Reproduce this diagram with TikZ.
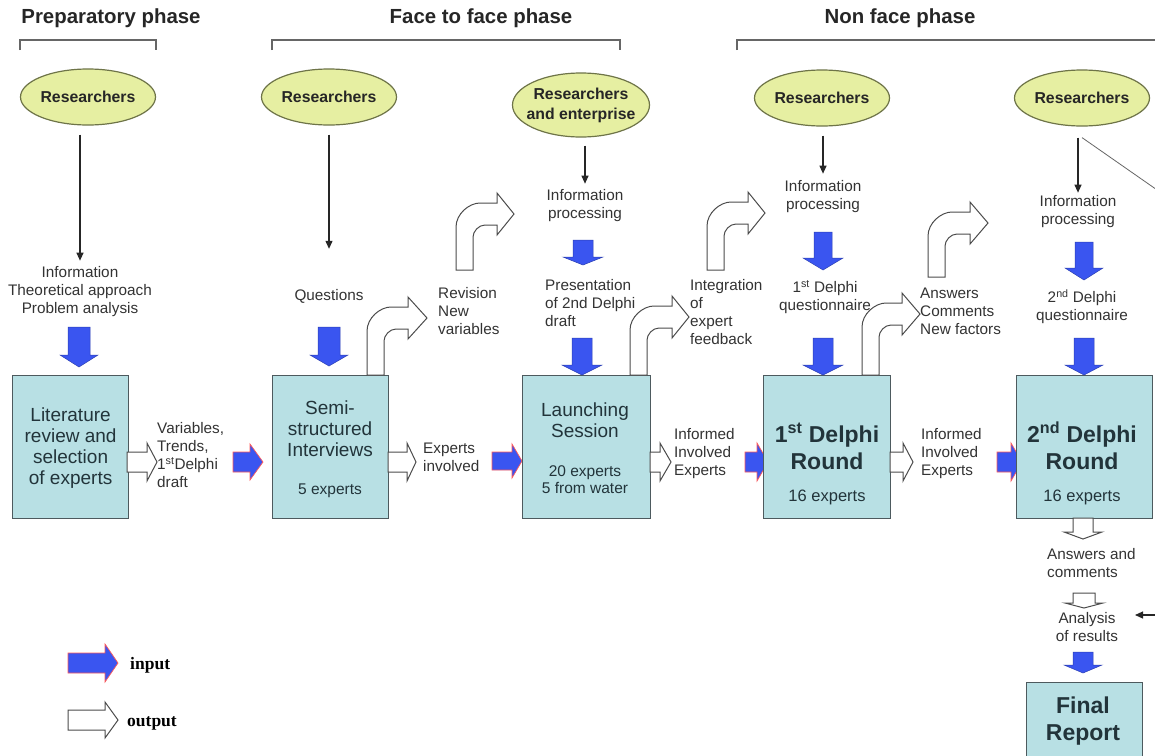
\documentclass[tikz,border=0pt]{standalone}
\usepackage{fontspec}
\setmainfont{Liberation Sans}
\newfontfamily\legfont{Liberation Serif}
\usetikzlibrary{arrows.meta,shapes.geometric}
\definecolor{boxfill}{HTML}{B8E0E4}
\definecolor{boxline}{HTML}{4D5A5E}
\definecolor{ellfill}{HTML}{E6EFA2}
\definecolor{ellline}{HTML}{6E7448}
\definecolor{inblue}{HTML}{3A55F0}
\definecolor{txt}{HTML}{333333}
\definecolor{boxtxt}{HTML}{22343A}
\tikzset{
  hdr/.style={font=\fontsize{20.4}{23}\selectfont\bfseries, text=black!85, inner sep=0},
  brk/.style={draw=black!60, line width=1.3pt},
  ell/.style={ellipse, draw=ellline, line width=1.2pt, fill=ellfill, minimum width=135, minimum height=56, inner sep=0},
  elltxt/.style={font=\fontsize{15.8}{20}\selectfont\bfseries, text=black!85, align=center, inner sep=0},
  lbl/.style={font=\fontsize{15.3}{18}\selectfont, text=txt, align=center, inner sep=0},
  lbll/.style={lbl, align=left},
  thinarr/.style={draw=black!85, line width=1.1pt, -{Triangle[length=8pt,width=7pt]}},
  grayline/.style={draw=black!60, line width=0.8pt},
  box/.style={draw=boxline, line width=1.2pt, fill=boxfill, inner sep=0},
  btxt/.style={font=\fontsize{19}{21}\selectfont, text=boxtxt, align=center, inner sep=0},
  bsmall/.style={font=\fontsize{15.5}{17}\selectfont, text=boxtxt, align=center, inner sep=0},
  bbig/.style={font=\fontsize{23}{27}\selectfont\bfseries, text=boxtxt, align=center, inner sep=0},
  outarr/.style={draw=black!70, line width=1pt, fill=white, line join=miter},
  inarr/.style={fill=inblue, draw=red!65, line width=0.7pt, line join=miter},
  downarr/.style={fill=inblue, draw=inblue!75!black, line width=0.5pt, line join=miter},
  leg/.style={font=\legfont\fontsize{17.5}{19}\selectfont\bfseries, inner sep=0}
}
% right-pointing block arrow: [style]{x0}{head x}{tip x}{y centre}{shaft half}{head half}
\newcommand\rblock[7][outarr]{\draw[#1] (#2,#5-#6) -- (#3,#5-#6) -- (#3,#5-#7) -- (#4,#5) -- (#3,#5+#7) -- (#3,#5+#6) -- (#2,#5+#6) -- cycle;}
% down-pointing block arrow: [style]{y0}{head y}{tip y}{x centre}{shaft half}{head half}
\newcommand\dblock[7][downarr]{\draw[#1] (#5-#6,#2) -- (#5-#6,#3) -- (#5-#7,#3) -- (#5,#4) -- (#5+#7,#3) -- (#5+#6,#3) -- (#5+#6,#2) -- cycle;}
% bent (up then right) block arrow: {shaft left x}{bottom y}{top y of horizontal part}{head x}{tip x}
\newcommand\bentarr[5]{\draw[outarr] (#1,#2) -- (#1,#3+24) .. controls (#1,#3+11) and (#1+13,#3) .. (#1+24,#3) -- (#4,#3) -- (#4,#3-10) -- (#5,#3+11) -- (#4,#3+32) -- (#4,#3+22) -- (#1+29,#3+22) .. controls (#1+22.4,#3+22) and (#1+17,#3+28.6) .. (#1+17,#3+34) -- (#1+17,#2) -- cycle;}
\begin{document}
\begin{tikzpicture}[x=1pt,y=-1pt]
\useasboundingbox[fill=white] (0,0) rectangle (1155,755);

% phase headers and brackets
\node[hdr] (h1) at (111,18) {Preparatory phase};
\node[hdr] (h2) at (481,18) {Face to face phase};
\node[hdr] (h3) at (900,18) {Non face phase};
\draw[brk] (20,50) -- (20,40) -- (156,40) -- (156,50);
\draw[brk] (272,50) -- (272,40) -- (620,40) -- (620,50);
\draw[brk] (737,50) -- (737,40) -- (1160,40);

% ellipses
\node[ell] (e1) at (88,97) {};
\node[elltxt] (e1t) at (e1) {Researchers};
\node[ell] (e2) at (329,97) {};
\node[elltxt] (e2t) at (e2) {Researchers};
\node[ell, minimum width=137, minimum height=64] (e3) at (581,105) {};
\node[elltxt] (e3t) at (e3) {Researchers\\and enterprise};
\node[ell] (e4) at (822,98) {};
\node[elltxt] (e4t) at (e4) {Researchers};
\node[ell] (e5) at (1082,98) {};
\node[elltxt] (e5t) at (e5) {Researchers};

% labels
\node[lbl] (i1) at (80,292) {Information\\Theoretical approach\\Problem analysis};
\node[lbl] (q2) at (329,296) {Questions};
\node[lbl] (i3) at (585,206) {Information\\processing};
\node[lbll, anchor=west] (p3) at (545,303) {Presentation\\of 2nd Delphi\\draft};
\node[lbl] (i4) at (823,197) {Information\\processing};
\node[lbl] (q4) at (825,297) {1\textsuperscript{st} Delphi\\questionnaire};
\node[lbl] (i5) at (1078,212) {Information\\processing};
\node[lbl] (q5) at (1082,307) {2\textsuperscript{nd} Delphi\\questionnaire};
\node[lbll, anchor=west] (v1) at (157,455) {Variables,\\Trends,\\1\textsuperscript{st}Delphi\\draft};
\node[lbll, anchor=west] (ex2) at (423,457) {Experts\\involved};
\node[lbll, anchor=west] (rv) at (438,311) {Revision\\New\\variables};
\node[lbll, anchor=west] (ig) at (690,312) {Integration\\of\\expert\\feedback};
\node[lbll, anchor=west] (ie3) at (674,454) {Informed\\Involved\\Experts};
\node[lbll, anchor=west] (ie4) at (921,454) {Informed\\Involved\\Experts};
\node[lbll, anchor=west] (ans) at (920,311) {Answers\\Comments\\New factors};
\node[lbll, anchor=west] (ac) at (1047,563) {Answers and\\comments};
\node[lbl] (an) at (1087,627) {Analysis\\of results};

% thin arrows
\draw[thinarr, shorten <=9pt, shorten >=6pt] (e1.south -| i1.north) -- (i1.north);
\draw[thinarr, shorten <=9pt, shorten >=40pt] (e2.south -| q2.north) -- (q2.north);
\draw[thinarr, shorten <=8pt, shorten >=6pt] (e3.south -| i3.north) -- (i3.north);
\draw[thinarr, shorten <=9pt, shorten >=7pt] (e4.south -| i4.north) -- (i4.north);
\draw[thinarr, shorten <=11pt, shorten >=3pt] (e5.south -| i5.north) -- (i5.north);

% loop from the last researchers to the analysis
\coordinate (dg) at (1160,192);
\coordinate (lp) at (1160,615);
\coordinate (ltip) at (1135,615);
\draw[grayline] ([yshift=-11pt]e5.south) -- (dg) -- (lp);
\draw[thinarr] (lp) -- (ltip);

% blue input arrows (right)
\rblock[inarr]{233}{250}{263}{462}{10}{18}
\rblock[inarr]{492}{512}{522}{461}{9}{17}
\rblock[inarr]{745}{757}{768}{462}{10}{19}
\rblock[inarr]{997}{1011}{1022}{462}{10}{19}

% boxes
\node[box, minimum width=116, minimum height=143, anchor=north west] (lit) at (12,375) {};
\node[box, minimum width=116, minimum height=143, anchor=north west] (sem) at (272,375) {};
\node[box, minimum width=128, minimum height=143, anchor=north west] (lan) at (522,375) {};
\node[box, minimum width=127, minimum height=143, anchor=north west] (d1) at (763,375) {};
\node[box, minimum width=136, minimum height=143, anchor=north west] (d2) at (1016,375) {};
\node[box, minimum width=116, minimum height=100, anchor=north west] (fr) at (1026,682) {};

\node[btxt] (litt) at (lit) [yshift=-1pt] {Literature\\review and\\selection\\of experts};
\node[btxt] (semt) at (330,429) {Semi-\\structured\\Interviews};
\node[bsmall] (sems) at (330,491) {5 experts};
\node[btxt] (lant) at (585,420) {Launching\\Session};
\node[bsmall] (lans) at (585,480) {20 experts\\5 from water};
\node[bbig] (d1t) at (827,446) {1\textsuperscript{st} Delphi\\Round};
\node[bsmall, font=\fontsize{16.5}{18}\selectfont] (d1s) at (827,497) {16 experts};
\node[bbig] (d2t) at (1082,446) {2\textsuperscript{nd} Delphi\\Round};
\node[bsmall, font=\fontsize{16.5}{18}\selectfont] (d2s) at (1082,497) {16 experts};
\node[bbig] (frt) at (1083,721) {Final\\Report};

% blue down arrows
\dblock{327}{355}{367}{79}{11}{19}
\dblock{327}{355}{366}{329}{11}{19}
\dblock{240}{257}{265}{583}{10}{20}
\dblock{338}{365}{375}{582}{10}{20}
\dblock{232}{258}{270}{823}{9}{20}
\dblock{338}{365}{375}{823}{10}{20}
\dblock{242}{268}{280}{1084}{9}{19}
\dblock{338}{365}{375}{1084}{10}{19}
\dblock{652}{665}{673}{1083}{10}{19}

% white output arrows (right)
\rblock{127}{147}{157}{462}{10}{19}
\rblock{388}{407}{416}{462}{10}{19}
\rblock{650}{660}{671}{462}{10}{19}
\rblock{890}{903}{913}{462}{10}{19}
% white output arrows (down)
\dblock[outarr]{518}{532}{539}{1083}{10}{19}
\dblock[outarr]{593}{603}{608}{1084}{11}{19}

% bent output arrows
\bentarr{367}{375}{307}{408}{427}
\bentarr{456}{270}{203}{497}{514}
\bentarr{630}{375}{306}{672}{689}
\bentarr{707}{270}{202}{748}{765}
\bentarr{862}{375}{303}{902}{920}
\bentarr{928}{277}{212}{970}{988}

% legend
\rblock[inarr]{68}{105}{118}{663}{10}{19}
\rblock{68}{105}{118}{720}{10}{18}
\node[leg, anchor=west] (lin) at (130,665) {input};
\node[leg, anchor=west] (lout) at (127,723) {output};
\end{tikzpicture}
\end{document}
